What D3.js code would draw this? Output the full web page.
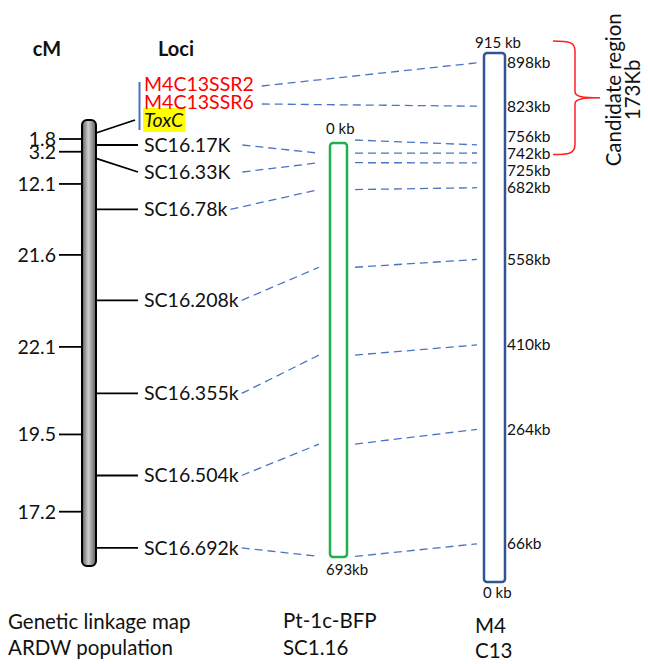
<!DOCTYPE html>
<html>
<head>
<meta charset="UTF-8">
<title>ToxC candidate region</title>
<style>
    body { margin: 0; background: #fff; }
    svg text { font-family: Lato, 'Open Sans', sans-serif; fill: #111; }
    .dash { fill: none; stroke: #4a74c4; stroke-width: 1.3; stroke-dasharray: 8,5; }
    .solid { stroke: #000; stroke-width: 1.8; }
</style>
</head>
<body>
<script src="https://cdn.jsdelivr.net/npm/d3@7/dist/d3.min.js"></script>
<script>
    /// data

    // genetic map: loci top to bottom and the cM intervals between them
    var loci = ["ToxC", "SC16.17K", "SC16.33K", "SC16.78k", "SC16.208k", "SC16.355k", "SC16.504k", "SC16.692k"];
    var cmIntervals = [1.8, 3.2, 12.1, 21.6, 22.1, 19.5, 17.2];

    // SSR markers that sit on the M4C13 contig only
    var ssrMarkers = ["M4C13SSR2", "M4C13SSR6"];
    var ssrKb = [898, 823];

    // scaffold SC1.16 (Pt-1c-BFP) <-> contig M4C13 links, in kb
    var scaffoldLen = 693;
    var scaffoldKb = [0, 17, 33, 78, 208, 355, 504, 692];
    var contigLen = 915;
    var contigKb = [756, 742, 725, 682, 558, 410, 264, 66];

    var candidateKb = [742, 915];
    var candidateText = ["Candidate region", "173Kb"];

    var bottomLabels = [
        ["Genetic linkage map", "ARDW population"],
        ["Pt-1c-BFP", "SC1.16"],
        ["M4", "C13"]
    ];

    /// layout

    var W = 648, H = 664;
    var svg = d3.select("body").append("svg")
        .attr("width", W)
        .attr("height", H);

    var defs = svg.append("defs");
    var grad = defs.append("linearGradient").attr("id", "chromGrad");
    grad.append("stop").attr("offset", "0%").attr("stop-color", "#5a5a5a");
    grad.append("stop").attr("offset", "45%").attr("stop-color", "#d0d0d0");
    grad.append("stop").attr("offset", "100%").attr("stop-color", "#5a5a5a");

    // chromosome bar
    var chrom = { x: 82, w: 14, top: 120, bottom: 566 };
    var firstLocusY = 133;
    var minGap = 12;
    var cmPx = d3.scaleLinear().domain([0, 1]).range([0, 4.21]);

    var attachY = [firstLocusY];
    cmIntervals.forEach(function(c, i) {
        attachY.push(attachY[i] + Math.max(cmPx(c), minGap));
    });

    // label positions, spread out from SC16.17K so text does not collide
    var labelGap = 27;
    var labelY = attachY.slice();
    for (var i = 2; i < labelY.length; i++) {
        labelY[i] = Math.max(labelY[i], labelY[i - 1] + labelGap);
    }
    labelY[0] = Math.min(attachY[0], labelY[1] - 25);

    var lociX = 144;
    var fs = 19.5;

    // physical maps
    var green = { x: 330, w: 17 };
    var scY = d3.scaleLinear().domain([0, scaffoldLen]).range([143, 557]);
    var blue = { x: 484, w: 21 };
    var m4Y = d3.scaleLinear().domain([0, contigLen]).range([582, 53]);

    /// headers
    svg.append("text").attr("x", 47).attr("y", 56)
        .attr("text-anchor", "middle").attr("font-weight", "bold").attr("font-size", 20)
        .text("cM");
    svg.append("text").attr("x", 176).attr("y", 56)
        .attr("text-anchor", "middle").attr("font-weight", "bold").attr("font-size", 20)
        .text("Loci");

    /// cM intervals (ticks on the left)
    var mids = cmIntervals.map(function(c, i) { return (attachY[i] + attachY[i + 1]) / 2; });
    svg.append("g").selectAll("line").data(cmIntervals).enter().append("line")
        .attr("class", "solid")
        .attr("x1", 59).attr("x2", chrom.x)
        .attr("y1", function(d, i) { return mids[i]; })
        .attr("y2", function(d, i) { return mids[i]; });
    svg.append("g").selectAll("text").data(cmIntervals).enter().append("text")
        .attr("x", 56)
        .attr("y", function(d, i) { return mids[i]; })
        .attr("dy", "0.35em")
        .attr("text-anchor", "end")
        .attr("font-size", fs)
        .text(function(d) { return d.toFixed(1); });

    /// locus connector lines
    svg.append("g").selectAll("line").data(loci).enter().append("line")
        .attr("class", "solid")
        .attr("x1", chrom.x + chrom.w)
        .attr("y1", function(d, i) { return attachY[i]; })
        .attr("x2", function(d, i) { return i === 0 ? 135 : 138; })
        .attr("y2", function(d, i) { return labelY[i]; });

    // chromosome
    svg.append("rect")
        .attr("x", chrom.x).attr("y", chrom.top)
        .attr("width", chrom.w).attr("height", chrom.bottom - chrom.top)
        .attr("rx", 5)
        .attr("fill", "url(#chromGrad)")
        .attr("stroke", "#000").attr("stroke-width", 2);

    /// loci labels
    var ssrY = ssrMarkers.map(function(d, i) { return labelY[0] - 18 * (ssrMarkers.length - i); });

    var toxHi = svg.append("rect").attr("fill", "#ffff00");

    var lociText = svg.append("g").selectAll("text").data(loci).enter().append("text")
        .attr("x", lociX)
        .attr("y", function(d, i) { return labelY[i]; })
        .attr("dy", "0.35em")
        .attr("font-size", fs)
        .attr("font-style", function(d, i) { return i === 0 ? "italic" : null; })
        .text(function(d) { return d; });

    var toxBox = lociText.nodes()[0].getBBox();
    toxHi.attr("x", toxBox.x - 1).attr("y", labelY[0] - 12)
        .attr("width", toxBox.width + 2).attr("height", 24);

    var ssrText = svg.append("g").selectAll("text").data(ssrMarkers).enter().append("text")
        .attr("x", lociX)
        .attr("y", function(d, i) { return ssrY[i]; })
        .attr("dy", "0.35em")
        .attr("font-size", fs)
        .style("fill", "#ff0000")
        .text(function(d) { return d; });

    // blue bar grouping the SSRs with ToxC
    svg.append("line")
        .attr("x1", 139.5).attr("x2", 139.5)
        .attr("y1", ssrY[0] - 2).attr("y2", labelY[0] + 10)
        .attr("stroke", "#4472c4").attr("stroke-width", 2);

    /// dashed links
    var links = svg.append("g");

    // SSR -> contig
    ssrText.each(function(d, i) {
        var end = this.getBBox().x + this.getBBox().width;
        links.append("line").attr("class", "dash")
            .attr("x1", end + 8).attr("y1", ssrY[i] + 2)
            .attr("x2", blue.x - 7).attr("y2", m4Y(ssrKb[i]));
    });

    // SC16 loci -> scaffold
    lociText.each(function(d, i) {
        if (i === 0) return;
        var end = this.getBBox().x + this.getBBox().width;
        links.append("line").attr("class", "dash")
            .attr("x1", end + (i < 3 ? 12 : 3)).attr("y1", labelY[i])
            .attr("x2", green.x - 11).attr("y2", scY(scaffoldKb[i]));
    });

    // scaffold -> contig
    links.selectAll(".sc2m4").data(scaffoldKb).enter().append("line")
        .attr("class", "dash sc2m4")
        .attr("x1", green.x + green.w + 8)
        .attr("y1", function(d) { return scY(d) - (d === 0 ? 3 : 0); })
        .attr("x2", blue.x - 7)
        .attr("y2", function(d, i) { return m4Y(contigKb[i]); });

    /// scaffold bar
    svg.append("rect")
        .attr("x", green.x).attr("y", scY(0))
        .attr("width", green.w).attr("height", scY(scaffoldLen) - scY(0))
        .attr("rx", 3)
        .attr("fill", "none").attr("stroke", "#1fb14c").attr("stroke-width", 2.5);
    svg.append("text").attr("x", 326).attr("y", scY(0) - 14).attr("dy", "0.35em")
        .attr("font-size", 15).text("0 kb");
    svg.append("text").attr("x", 326).attr("y", scY(scaffoldLen) + 13).attr("dy", "0.35em")
        .attr("font-size", 15).text(scaffoldLen + "kb");

    /// contig bar
    svg.append("rect")
        .attr("x", blue.x).attr("y", m4Y(contigLen))
        .attr("width", blue.w).attr("height", m4Y(0) - m4Y(contigLen))
        .attr("rx", 3)
        .attr("fill", "none").attr("stroke", "#2f5597").attr("stroke-width", 2.5);
    svg.append("text").attr("x", 475).attr("y", m4Y(contigLen) - 10).attr("dy", "0.35em")
        .attr("font-size", 15).text(contigLen + " kb");
    svg.append("text").attr("x", 483).attr("y", m4Y(0) + 11).attr("dy", "0.35em")
        .attr("font-size", 15).text("0 kb");

    // contig position labels, nudged apart where they crowd
    var kbLabels = ssrKb.concat(contigKb);
    var kbY = kbLabels.map(function(d) { return m4Y(d); });
    for (var it = 0; it < 60; it++) {
        for (var j = 1; j < kbY.length; j++) {
            var over = 17 - (kbY[j] - kbY[j - 1]);
            if (over > 0) {
                kbY[j - 1] -= over / 2;
                kbY[j] += over / 2;
            }
        }
    }
    svg.append("g").selectAll("text").data(kbLabels).enter().append("text")
        .attr("x", blue.x + blue.w + 2)
        .attr("y", function(d, i) { return kbY[i]; })
        .attr("dy", "0.35em")
        .attr("font-size", 15.5)
        .text(function(d) { return d + "kb"; });

    /// candidate region brace
    var bTop = m4Y(candidateKb[1]) - 12,
        bBot = kbY[kbLabels.indexOf(candidateKb[0])] + 1,
        bMid = (bTop + bBot) / 2,
        bx0 = 553, bx1 = 575, bx2 = 600;
    var brace = d3.path();
    brace.moveTo(bx0, bTop);
    brace.bezierCurveTo(bx0 + 16, bTop, bx1, bTop + 1, bx1, bTop + 10);
    brace.lineTo(bx1, bMid - 6);
    brace.bezierCurveTo(bx1, bMid - 1, bx1 + 8, bMid, bx2, bMid);
    brace.bezierCurveTo(bx1 + 8, bMid, bx1, bMid + 1, bx1, bMid + 6);
    brace.lineTo(bx1, bBot - 10);
    brace.bezierCurveTo(bx1, bBot - 1, bx0 + 16, bBot, bx0, bBot);
    svg.append("path").attr("d", brace.toString())
        .attr("fill", "none").attr("stroke", "#ff2020").attr("stroke-width", 1.5);

    svg.append("g").selectAll("text").data(candidateText).enter().append("text")
        .attr("transform", function(d, i) {
            return "translate(" + (621 + i * 19) + "," + (bMid - 8) + ") rotate(-90)";
        })
        .attr("text-anchor", "middle")
        .attr("font-size", 20.5)
        .text(function(d) { return d; });

    /// captions under the maps
    var capX = [8, 283, 475],
        capY = [[622, 648], [621, 648], [626, 651]];
    bottomLabels.forEach(function(pair, c) {
        svg.append("g").selectAll("text").data(pair).enter().append("text")
            .attr("x", capX[c])
            .attr("y", function(d, i) { return capY[c][i]; })
            .attr("dy", "0.35em")
            .attr("font-size", 20.5)
            .text(function(d) { return d; });
    });
</script>
</body>
</html>
